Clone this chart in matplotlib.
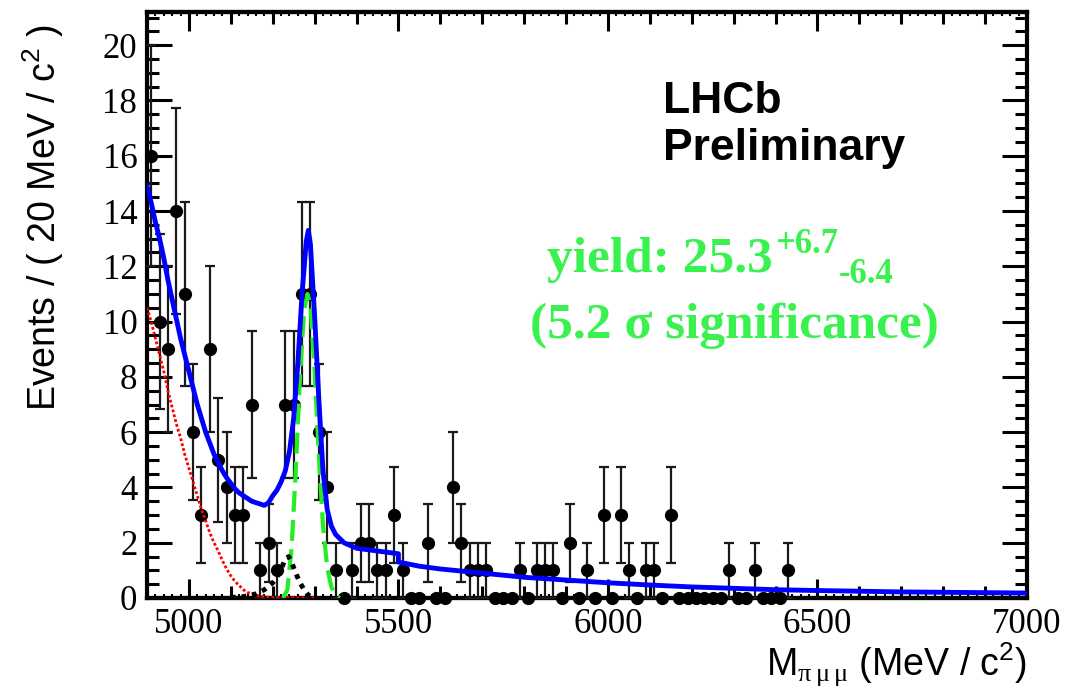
import numpy as np
import matplotlib.pyplot as plt
from matplotlib.ticker import MultipleLocator

plt.rcParams['font.family'] = ['Liberation Sans', 'DejaVu Sans']
plt.rcParams['mathtext.fontset'] = 'custom'
plt.rcParams['mathtext.rm'] = 'Liberation Serif'
plt.rcParams['mathtext.sf'] = 'Liberation Sans'

# data: 20 MeV bins from 4900 MeV
bin_centres = np.arange(4910, 6450, 20)
counts = [16, 10, 9, 14, 11, 6, 3, 9, 5, 4,
          3, 3, 7, 1, 2, 1, 7, 7, 11, 11,
          6, 4, 1, 0, 1, 2, 2, 1, 1, 3,
          1, 0, 0, 2, 0, 0, 4, 2, 1, 1,
          1, 0, 0, 0, 1, 0, 1, 1, 1, 0,
          2, 0, 1, 0, 3, 0, 3, 1, 0, 1,
          1, 0, 3, 0, 0, 0, 0, 0, 0, 1,
          0, 0, 1, 0, 0, 0, 1]

# fit: total pdf
total_m = [4900, 4910, 4920, 4930, 4940, 4950, 4960, 4970, 4980, 4990,
           5000, 5010, 5020, 5030, 5040, 5050, 5060, 5070, 5080, 5090,
           5100, 5110, 5120, 5130, 5140, 5150, 5160, 5170, 5180, 5190,
           5200, 5210, 5220, 5230, 5240, 5250, 5260, 5270, 5280, 5285,
           5290, 5300, 5310, 5320, 5330, 5340, 5350, 5370, 5400, 5450,
           5500, 5500, 5550, 5600, 5700, 5800, 5900, 6000, 6100, 6200,
           6300, 6400, 6500, 6700, 7000]
total_y = [14.9, 14.3, 13.6, 13.0, 12.3, 11.5, 10.8, 10.1, 9.4, 8.8,
           8.2, 7.6, 7.0, 6.5, 6.0, 5.6, 5.2, 4.9, 4.6, 4.35,
           4.15, 3.95, 3.8, 3.7, 3.6, 3.5, 3.45, 3.4, 3.35, 3.45,
           3.7, 3.9, 4.2, 4.6, 5.3, 6.5, 8.5, 11.0, 12.9, 13.3,
           12.8, 10.2, 7.2, 4.6, 3.2, 2.6, 2.3, 2.0, 1.8, 1.7,
           1.6, 1.3, 1.15, 1.05, 0.9, 0.75, 0.65, 0.55, 0.47, 0.4,
           0.35, 0.3, 0.27, 0.22, 0.18]

# signal component
sig_m = [5225, 5235, 5245, 5255, 5265, 5275, 5283, 5290, 5300, 5310,
         5320, 5330, 5340, 5350, 5360]
sig_y = [0.0, 0.3, 1.8, 4.6, 8.0, 10.4, 11.0, 10.6, 8.2, 5.2,
         2.6, 1.1, 0.4, 0.1, 0.0]

# partially reconstructed background
red_m = [4900, 4910, 4920, 4930, 4940, 4950, 4960, 4970, 4980, 4990,
         5000, 5010, 5020, 5030, 5040, 5050, 5060, 5070, 5080, 5090,
         5100, 5110, 5120, 5130, 5140, 5160, 5180, 5200, 5300]
red_y = [10.5, 10.0, 9.4, 8.8, 8.2, 7.5, 6.9, 6.3, 5.8, 5.2,
         4.7, 4.2, 3.7, 3.2, 2.8, 2.35, 2.0, 1.7, 1.35, 1.05,
         0.8, 0.6, 0.45, 0.3, 0.2, 0.1, 0.05, 0.02, 0.0]

# misidentified background
mis_m = [5100, 5130, 5160, 5180, 5200, 5210, 5220, 5230, 5238, 5245,
         5255, 5265, 5275, 5285, 5300]
mis_y = [0.02, 0.05, 0.15, 0.3, 0.55, 0.75, 1.05, 1.4, 1.5, 1.3,
         0.9, 0.55, 0.3, 0.1, 0.02]

fig = plt.figure(figsize=(10.77, 6.89), dpi=100)
ax = fig.add_axes([147 / 1077, 91 / 689, 880 / 1077, 586 / 689])

counts = np.array(counts)
nz = counts > 0
ax.errorbar(bin_centres[nz], counts[nz], yerr=np.sqrt(counts[nz]), fmt='o',
            color='black', ms=8.5, ecolor='#1a1a1a', elinewidth=1.6,
            capsize=3.5, capthick=1.6, zorder=3, clip_on=False)
ax.plot(bin_centres[~nz], counts[~nz], 'o', color='black', ms=8.5,
        zorder=3, clip_on=False)

ax.plot(red_m, red_y, color='red', ls=(0, (1, 0.8)), lw=2.0, zorder=4)
ax.plot(sig_m, sig_y, color='#22ee22', ls=(0, (5, 2)), lw=3, zorder=4)
ax.plot(mis_m, mis_y, color='black', ls=(0, (1, 1.2)), lw=3.5, zorder=4.5)
ax.plot(total_m, total_y, color='blue', lw=3.5, zorder=5)

ax.set_xlim(4900, 7000)
ax.set_ylim(0, 21.2)
ax.xaxis.set_major_locator(MultipleLocator(500))
ax.xaxis.set_minor_locator(MultipleLocator(100))
ax.yaxis.set_major_locator(MultipleLocator(2))
ax.yaxis.set_minor_locator(MultipleLocator(0.5))
ax.tick_params(which='both', direction='in', top=True, right=True, width=2.2,
               labelsize=25, labelfontfamily='Liberation Serif')
ax.tick_params(axis='y', which='major', length=18, pad=7)
ax.tick_params(axis='y', which='minor', length=8.5)
ax.tick_params(axis='x', which='major', length=14, pad=7)
ax.tick_params(axis='x', which='minor', length=8.5)
for s in ax.spines.values():
    s.set_linewidth(3)

# fine 20 MeV ticks
for loc in ['bottom', 'top']:
    sec = ax.secondary_xaxis(loc)
    sec.set_xticks(np.arange(4900, 7001, 20))
    sec.tick_params(direction='in', length=3, width=1.5,
                    labelbottom=False, labeltop=False)
    sec.spines[loc].set_linewidth(3)

fig.text(43 / 1077, 1 - 24 / 689, 'Events / ( 20 MeV / c$^{\\mathsf{2}}$ )',
         rotation=90, ha='center', va='top', fontsize=27)
fig.text(1027 / 1077, (689 - 676) / 689,
         'M$_{\\mathrm{\u03c0\\,\u03bc\\,\u03bc}}$ (MeV / c$^{\\mathsf{2}}$)',
         ha='right', va='baseline', fontsize=27)

ax.text(0.586, 0.828, 'LHCb', fontsize=32, fontweight='bold',
        transform=ax.transAxes, va='baseline')
ax.text(0.586, 0.748, 'Preliminary', fontsize=32, fontweight='bold',
        transform=ax.transAxes, va='baseline')

green = '#3af24f'
serif_bold = dict(family='Liberation Serif', weight='bold', color=green,
                  transform=ax.transAxes, va='baseline')
t_yield = ax.text(0.4545, 0.556, 'yield: 25.3', fontsize=37, **serif_bold)
ax.text(0.435, 0.4437, '(5.2 \u03c3 significance)', fontsize=37, **serif_bold)

# place the asymmetric errors right after the yield value
renderer = fig.canvas.get_renderer()
bb = t_yield.get_window_extent(renderer)
x_end = ax.transAxes.inverted().transform((bb.x1 + 2, bb.y0))[0]
t_up = ax.text(x_end, 0.588, '+6.7', fontsize=25, **serif_bold)
bb_up = t_up.get_window_extent(renderer)
x_dn = ax.transAxes.inverted().transform((bb_up.x1 + 1, bb_up.y0))[0]
ax.text(x_dn, 0.5375, '-6.4', fontsize=25, **serif_bold)

fig.savefig('out.png', dpi=100)
